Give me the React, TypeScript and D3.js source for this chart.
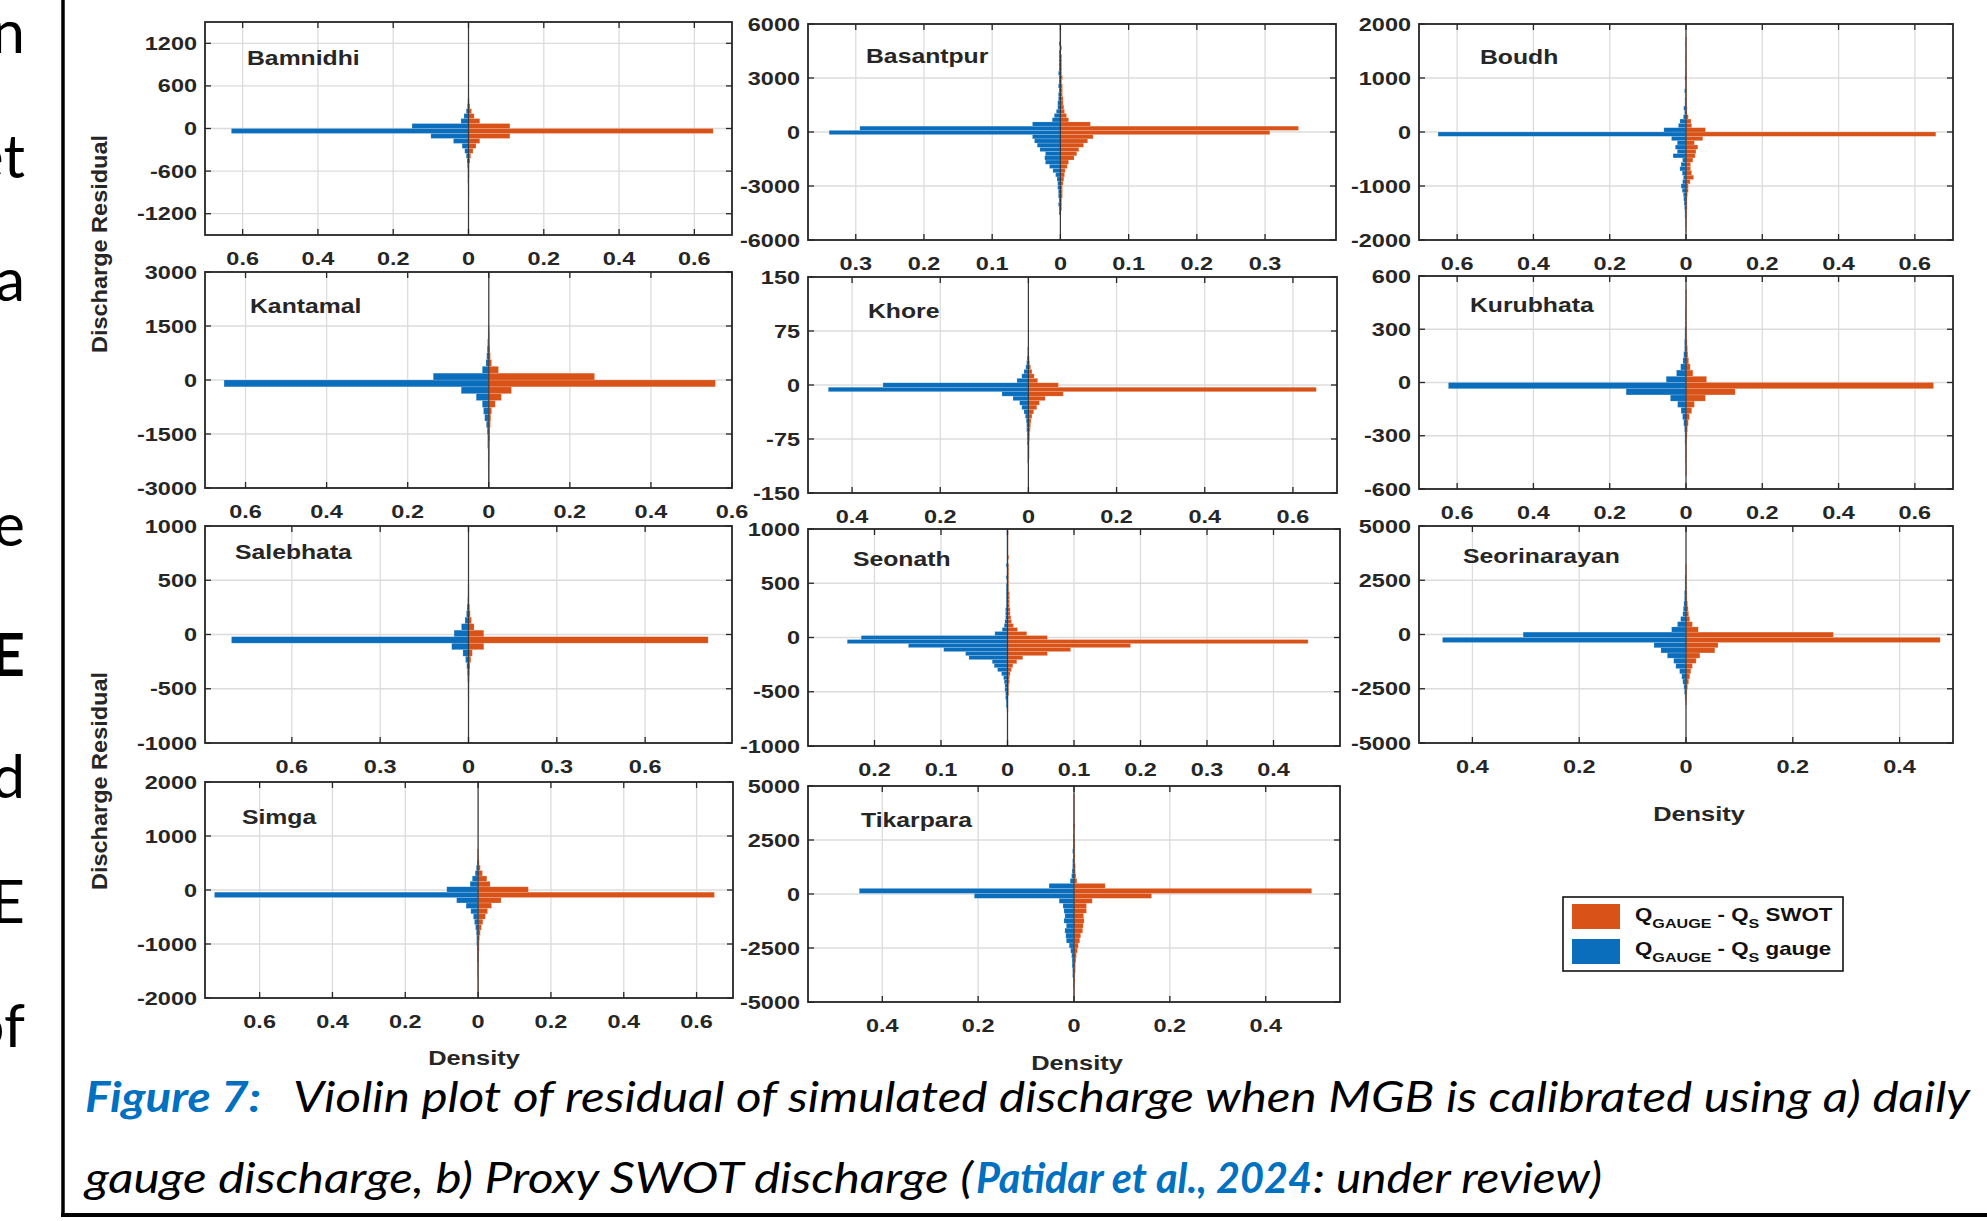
import React from 'react';
import * as d3 from 'd3';

// ---------------- data ----------------
const stations = ['Bamnidhi', 'Basantpur', 'Boudh', 'Kantamal', 'Khore', 'Kurubhata', 'Salebhata', 'Seonath', 'Seorinarayan', 'Simga', 'Tikarpara'];

// histogram bins: start value and width of bins along the residual axis
const binStarts = [-980, -4610, -1840, -2850, -139.5, -525, -620, -685, -3250, -1940, -4800];
const binWidths = [70, 235, 80, 190, 6.2, 35, 60, 37, 240, 100, 230];

// densities per bin (bottom -> top): gauge-calibrated (blue) and SWOT (orange)
const bamnidhiGauge = [0.001, 0.001, 0.001, 0.002, 0.002, 0.002, 0.003, 0.004, 0.006, 0.010, 0.017, 0.040, 0.100, 0.630, 0.150, 0.020, 0.012, 0.006, 0.003, 0.002];
const bamnidhiSwot = [0.001, 0.001, 0.001, 0.001, 0.002, 0.002, 0.002, 0.004, 0.006, 0.012, 0.020, 0.030, 0.110, 0.650, 0.110, 0.030, 0.015, 0.008, 0.004, 0.002];

const basantpurGauge = [0.002, 0.002, 0.003, 0.002, 0.003, 0.003, 0.004, 0.004, 0.005, 0.007, 0.011, 0.016, 0.022, 0.023, 0.022, 0.030, 0.034, 0.038, 0.041, 0.339, 0.294, 0.041, 0.012, 0.009, 0.006, 0.004, 0.004, 0.003, 0.003, 0.002, 0.003, 0.002, 0.002, 0.003, 0.002, 0.002, 0.002, 0.002, 0.002, 0.001, 0.002, 0.001, 0.001, 0.001];
const basantpurSwot = [0.001, 0.002, 0.002, 0.002, 0.003, 0.003, 0.003, 0.004, 0.005, 0.006, 0.007, 0.010, 0.012, 0.020, 0.024, 0.027, 0.034, 0.040, 0.048, 0.307, 0.349, 0.044, 0.012, 0.009, 0.006, 0.005, 0.004, 0.004, 0.003, 0.003, 0.003, 0.002, 0.003, 0.002, 0.002, 0.002, 0.002, 0.002, 0.001, 0.002, 0.001, 0.001, 0.001, 0.001];

const boudhGauge = [0.001, 0.002, 0.002, 0.003, 0.003, 0.004, 0.005, 0.006, 0.007, 0.010, 0.013, 0.009, 0.007, 0.010, 0.016, 0.013, 0.009, 0.034, 0.023, 0.028, 0.023, 0.038, 0.650, 0.058, 0.020, 0.016, 0.007, 0.004, 0.006, 0.003, 0.003, 0.002, 0.004, 0.002, 0.002, 0.003, 0.002, 0.002, 0.001, 0.002, 0.002, 0.001, 0.001, 0.002, 0.001];
const boudhSwot = [0.001, 0.001, 0.002, 0.002, 0.002, 0.003, 0.003, 0.003, 0.004, 0.006, 0.006, 0.011, 0.020, 0.015, 0.012, 0.012, 0.018, 0.024, 0.026, 0.031, 0.022, 0.044, 0.655, 0.051, 0.015, 0.013, 0.006, 0.003, 0.003, 0.002, 0.002, 0.001, 0.002, 0.001, 0.001, 0.002, 0.001, 0.001, 0.001, 0.001, 0.001, 0.001, 0.001, 0.001, 0.001];

const kantamalGauge = [0.001, 0.001, 0.002, 0.002, 0.002, 0.003, 0.003, 0.004, 0.006, 0.010, 0.013, 0.016, 0.031, 0.068, 0.653, 0.137, 0.016, 0.007, 0.005, 0.004, 0.003, 0.002, 0.002];
const kantamalSwot = [0.001, 0.001, 0.001, 0.002, 0.002, 0.002, 0.003, 0.003, 0.004, 0.005, 0.007, 0.016, 0.031, 0.056, 0.559, 0.261, 0.024, 0.007, 0.004, 0.003, 0.002, 0.002, 0.001];

const khoreGauge = [0.001, 0.001, 0.001, 0.001, 0.001, 0.002, 0.002, 0.002, 0.002, 0.003, 0.003, 0.003, 0.004, 0.004, 0.005, 0.007, 0.010, 0.015, 0.020, 0.035, 0.060, 0.454, 0.330, 0.026, 0.015, 0.010, 0.006, 0.004, 0.003, 0.002, 0.002];
const khoreSwot = [0.001, 0.001, 0.001, 0.001, 0.001, 0.001, 0.002, 0.002, 0.002, 0.002, 0.003, 0.003, 0.004, 0.005, 0.006, 0.008, 0.012, 0.019, 0.025, 0.038, 0.079, 0.653, 0.068, 0.021, 0.013, 0.008, 0.005, 0.003, 0.002, 0.001, 0.001];

const kurubhataGauge = [0.001, 0.001, 0.002, 0.002, 0.002, 0.003, 0.003, 0.004, 0.006, 0.009, 0.013, 0.022, 0.041, 0.157, 0.623, 0.052, 0.025, 0.014, 0.008, 0.006, 0.004, 0.004, 0.003, 0.003, 0.002, 0.002, 0.002, 0.001, 0.001, 0.001];
const kurubhataSwot = [0.001, 0.001, 0.001, 0.002, 0.002, 0.002, 0.003, 0.004, 0.006, 0.009, 0.015, 0.022, 0.051, 0.129, 0.649, 0.054, 0.018, 0.011, 0.007, 0.005, 0.004, 0.003, 0.002, 0.002, 0.001, 0.001, 0.001, 0.001, 0.001, 0.001];

const salebhataGauge = [0.001, 0.002, 0.002, 0.003, 0.004, 0.006, 0.010, 0.019, 0.057, 0.805, 0.049, 0.024, 0.012, 0.007, 0.005, 0.003, 0.002, 0.002];
const salebhataSwot = [0.001, 0.001, 0.002, 0.003, 0.004, 0.005, 0.008, 0.013, 0.052, 0.814, 0.052, 0.019, 0.010, 0.006, 0.004, 0.002, 0.002, 0.001];

const seonathGauge = [0.001, 0.002, 0.002, 0.003, 0.003, 0.004, 0.004, 0.005, 0.006, 0.009, 0.015, 0.020, 0.023, 0.058, 0.063, 0.096, 0.149, 0.241, 0.220, 0.019, 0.008, 0.005, 0.004, 0.003, 0.003, 0.003, 0.002, 0.002, 0.002, 0.002, 0.002, 0.002, 0.001, 0.002, 0.001, 0.001, 0.002, 0.001, 0.001, 0.001, 0.001, 0.001, 0.001, 0.001, 0.001];
const seonathSwot = [0.001, 0.001, 0.001, 0.001, 0.002, 0.002, 0.002, 0.003, 0.003, 0.004, 0.006, 0.008, 0.014, 0.023, 0.060, 0.095, 0.185, 0.452, 0.060, 0.029, 0.015, 0.009, 0.006, 0.005, 0.004, 0.004, 0.003, 0.003, 0.003, 0.003, 0.002, 0.002, 0.002, 0.002, 0.002, 0.002, 0.002, 0.001, 0.002, 0.001, 0.001, 0.001, 0.001, 0.001, 0.001];

const seorinarayanGauge = [0.001, 0.002, 0.003, 0.004, 0.006, 0.008, 0.012, 0.019, 0.023, 0.035, 0.047, 0.060, 0.456, 0.305, 0.027, 0.016, 0.010, 0.006, 0.005, 0.004, 0.003, 0.003, 0.002, 0.002, 0.002, 0.001, 0.001];
const seorinarayanSwot = [0.001, 0.001, 0.002, 0.003, 0.005, 0.007, 0.009, 0.012, 0.019, 0.026, 0.054, 0.060, 0.476, 0.276, 0.023, 0.012, 0.007, 0.005, 0.004, 0.003, 0.002, 0.002, 0.001, 0.001, 0.001, 0.001, 0.001];

const simgaGauge = [0.001, 0.001, 0.001, 0.002, 0.002, 0.002, 0.003, 0.003, 0.003, 0.004, 0.004, 0.005, 0.007, 0.010, 0.013, 0.020, 0.033, 0.059, 0.724, 0.086, 0.022, 0.016, 0.008, 0.005, 0.003, 0.002, 0.002];
const simgaSwot = [0.001, 0.001, 0.001, 0.001, 0.001, 0.002, 0.002, 0.002, 0.003, 0.003, 0.004, 0.006, 0.009, 0.013, 0.020, 0.026, 0.037, 0.063, 0.649, 0.138, 0.033, 0.024, 0.012, 0.006, 0.003, 0.002, 0.001];

const tikarparaGauge = [0.001, 0.001, 0.002, 0.002, 0.003, 0.003, 0.004, 0.004, 0.005, 0.007, 0.010, 0.016, 0.017, 0.019, 0.016, 0.021, 0.019, 0.021, 0.023, 0.031, 0.208, 0.448, 0.052, 0.008, 0.005, 0.004, 0.003, 0.003, 0.002, 0.003, 0.002, 0.002, 0.002, 0.001, 0.002, 0.001, 0.001, 0.001, 0.001, 0.001, 0.001];
const tikarparaSwot = [0.001, 0.001, 0.001, 0.002, 0.002, 0.003, 0.003, 0.004, 0.005, 0.007, 0.009, 0.012, 0.014, 0.018, 0.019, 0.021, 0.020, 0.026, 0.026, 0.038, 0.162, 0.496, 0.065, 0.006, 0.004, 0.003, 0.003, 0.002, 0.002, 0.002, 0.002, 0.002, 0.001, 0.001, 0.002, 0.001, 0.001, 0.001, 0.001, 0.001, 0.001];

const gaugeSeries = [bamnidhiGauge, basantpurGauge, boudhGauge, kantamalGauge, khoreGauge, kurubhataGauge, salebhataGauge, seonathGauge, seorinarayanGauge, simgaGauge, tikarparaGauge];
const swotSeries = [bamnidhiSwot, basantpurSwot, boudhSwot, kantamalSwot, khoreSwot, kurubhataSwot, salebhataSwot, seonathSwot, seorinarayanSwot, simgaSwot, tikarparaSwot];

// axis limits and tick labels
const yDomains = [[-1500, 1500], [-6000, 6000], [-2000, 2000], [-3000, 3000], [-150, 150], [-600, 600], [-1000, 1000], [-1000, 1000], [-5000, 5000], [-2000, 2000], [-5000, 5000]];
const yTicks = [
  [-1200, -600, 0, 600, 1200],
  [-6000, -3000, 0, 3000, 6000],
  [-2000, -1000, 0, 1000, 2000],
  [-3000, -1500, 0, 1500, 3000],
  [-150, -75, 0, 75, 150],
  [-600, -300, 0, 300, 600],
  [-1000, -500, 0, 500, 1000],
  [-1000, -500, 0, 500, 1000],
  [-5000, -2500, 0, 2500, 5000],
  [-2000, -1000, 0, 1000, 2000],
  [-5000, -2500, 0, 2500, 5000],
];
const xDomains = [[-0.7, 0.7], [-0.37, 0.404], [-0.7, 0.7], [-0.7, 0.6], [-0.5, 0.7], [-0.7, 0.7], [-0.895, 0.895], [-0.3, 0.5], [-0.5, 0.5], [-0.75, 0.7], [-0.555, 0.555]];
const xTicks = [
  [-0.6, -0.4, -0.2, 0, 0.2, 0.4, 0.6],
  [-0.3, -0.2, -0.1, 0, 0.1, 0.2, 0.3],
  [-0.6, -0.4, -0.2, 0, 0.2, 0.4, 0.6],
  [-0.6, -0.4, -0.2, 0, 0.2, 0.4, 0.6],
  [-0.4, -0.2, 0, 0.2, 0.4, 0.6],
  [-0.6, -0.4, -0.2, 0, 0.2, 0.4, 0.6],
  [-0.6, -0.3, 0, 0.3, 0.6],
  [-0.2, -0.1, 0, 0.1, 0.2, 0.3, 0.4],
  [-0.4, -0.2, 0, 0.2, 0.4],
  [-0.6, -0.4, -0.2, 0, 0.2, 0.4, 0.6],
  [-0.4, -0.2, 0, 0.2, 0.4],
];

const legendLabels = ['SWOT', 'gauge'];
const sideLetters = ['n', 'et', 'a', 'e', 'E', 'd', 'E', 'of'];

// ---------------- layout / style ----------------
const W = 1987;
const H = 1221;
const BLUE = '#0A6EBD';
const ORANGE = '#D95319';
const INK = '#262626';
const GRID = '#dcdcdc';
const SX = 1.27;
const FONT = "'Liberation Sans', Arial, Helvetica, sans-serif";
const CAP_FONT = "Lato, 'Open Sans', sans-serif";

const panelBoxes = [
  [205, 732, 22, 235], [808, 1336, 24, 240], [1419, 1953, 24, 240],
  [205, 732, 272, 488], [808, 1337, 277, 493], [1419, 1953, 276, 489],
  [205, 732, 526, 743], [808, 1340, 529, 746], [1419, 1953, 526, 743],
  [205, 733, 782, 998], [808, 1340, 786, 1002],
];
const titlePos = [[247, 65], [866, 63], [1480, 64], [250, 313], [868, 318], [1470, 312], [235, 559], [853, 566], [1463, 563], [242, 824], [861, 827]];
const sideBaselines = [53, 178, 301, 546, 676, 798, 923, 1047];

function SText({ x, y, anchor = 'start', size = 18.5, weight = 'bold', sx = SX, fill = INK, children }: any) {
  return (
    <text transform={`translate(${x},${y}) scale(${sx},1)`} textAnchor={anchor} fontFamily={FONT} fontSize={size} fontWeight={weight} fill={fill}>
      {children}
    </text>
  );
}

const fmtX = (v: number) => String(+Math.abs(v).toFixed(2));

function Panel({ i }: { i: number }) {
  const [x0, x1, y0, y1] = panelBoxes[i];
  const xs = d3.scaleLinear().domain(xDomains[i]).range([x0, x1]);
  const ys = d3.scaleLinear().domain(yDomains[i]).range([y1, y0]);
  const start = binStarts[i];
  const w = binWidths[i];
  const tl = 6;
  const bars = (vals: number[], side: number, color: string) =>
    vals.map((d, k) => {
      const lo = start + k * w;
      const hi = lo + w;
      const xa = xs(side < 0 ? -d : 0);
      const xb = xs(side < 0 ? 0 : d);
      return (
        <rect key={`${color}${k}`} x={xa} y={ys(hi)} width={Math.max(0.6, xb - xa)} height={ys(lo) - ys(hi)}
          fill={color} stroke="#ffffff" strokeOpacity={0.28} strokeWidth={0.6} />
      );
    });
  return (
    <g>
      <rect x={x0} y={y0} width={x1 - x0} height={y1 - y0} fill="#fff" />
      {xTicks[i].map((t) => (
        <line key={`gx${t}`} x1={xs(t)} x2={xs(t)} y1={y0} y2={y1} stroke={GRID} strokeWidth={1.3} />
      ))}
      {yTicks[i].map((t) => (
        <line key={`gy${t}`} x1={x0} x2={x1} y1={ys(t)} y2={ys(t)} stroke={GRID} strokeWidth={1.3} />
      ))}
      {bars(gaugeSeries[i], -1, BLUE)}
      {bars(swotSeries[i], 1, ORANGE)}
      <line x1={xs(0)} x2={xs(0)} y1={y0} y2={y1} stroke="#3a3a3a" strokeWidth={1.2} />
      {xTicks[i].map((t) => (
        <g key={`tx${t}`}>
          <line x1={xs(t)} x2={xs(t)} y1={y1} y2={y1 - tl} stroke={INK} strokeWidth={1.3} />
          <line x1={xs(t)} x2={xs(t)} y1={y0} y2={y0 + tl} stroke={INK} strokeWidth={1.3} />
          <SText x={xs(t)} y={y1 + 30} anchor="middle">{fmtX(t)}</SText>
        </g>
      ))}
      {yTicks[i].map((t) => (
        <g key={`ty${t}`}>
          <line x1={x0} x2={x0 + tl} y1={ys(t)} y2={ys(t)} stroke={INK} strokeWidth={1.3} />
          <line x1={x1} x2={x1 - tl} y1={ys(t)} y2={ys(t)} stroke={INK} strokeWidth={1.3} />
          <SText x={x0 - 8} y={ys(t) + 6.5} anchor="end">{String(t)}</SText>
        </g>
      ))}
      <rect x={x0} y={y0} width={x1 - x0} height={y1 - y0} fill="none" stroke={INK} strokeWidth={1.8} />
      <SText x={titlePos[i][0]} y={titlePos[i][1]} size={19.5}>{stations[i]}</SText>
    </g>
  );
}

export default function App() {
  return (
    <div style={{ position: 'absolute', left: 0, top: 0, width: W, height: H, background: '#fff' }}>
      <svg width={W} height={H} viewBox={`0 0 ${W} ${H}`} style={{ display: 'block' }}>
        <rect x={0} y={0} width={W} height={H} fill="#fff" />
        {/* cut-off text from neighbouring column */}
        {sideLetters.map((s, k) => (
          <text key={k} x={25} y={sideBaselines[k]} textAnchor="end" fontFamily={CAP_FONT} fontSize={60}
            fontWeight={k === 4 ? 'bold' : 'normal'} fill="#000">{s}</text>
        ))}
        <line x1={63} x2={63} y1={0} y2={1217} stroke="#000" strokeWidth={3.5} />
        <line x1={61} x2={W} y1={1215} y2={1215} stroke="#000" strokeWidth={4} />

        {stations.map((_, i) => <Panel key={i} i={i} />)}

        {/* axis titles */}
        <text transform="translate(107,244) rotate(-90)" textAnchor="middle" fontFamily={FONT} fontSize={22}
          fontWeight="bold" fill={INK} textLength={218} lengthAdjust="spacingAndGlyphs">Discharge Residual</text>
        <text transform="translate(107,781) rotate(-90)" textAnchor="middle" fontFamily={FONT} fontSize={22}
          fontWeight="bold" fill={INK} textLength={218} lengthAdjust="spacingAndGlyphs">Discharge Residual</text>
        <SText x={474} y={1065} anchor="middle" size={20}>Density</SText>
        <SText x={1077} y={1070} anchor="middle" size={20}>Density</SText>
        <SText x={1699} y={821} anchor="middle" size={20}>Density</SText>

        {/* legend */}
        <rect x={1563} y={897} width={280} height={74} fill="#fff" stroke="#111" strokeWidth={1.6} />
        <rect x={1572} y={904} width={48} height={25} fill={ORANGE} />
        <rect x={1572} y={939} width={48} height={25} fill={BLUE} />
        {legendLabels.map((lab, k) => (
          <text key={lab} transform={`translate(1635,${921 + k * 34}) scale(1.24,1)`} fontFamily={FONT} fontSize={18}
            fontWeight="bold" fill="#111">
            Q<tspan fontSize={13} dy={7}>GAUGE</tspan>
            <tspan dy={-7}>{' - Q'}</tspan>
            <tspan fontSize={13} dy={7}>S</tspan>
            <tspan dy={-7}>{' ' + lab}</tspan>
          </text>
        ))}

        {/* caption */}
        <text x={85} y={1112} fontFamily={CAP_FONT} fontSize={42} fontStyle="italic" fontWeight="bold" fill="#0070C0"
          textLength={176} lengthAdjust="spacingAndGlyphs">Figure 7:</text>
        <text x={293} y={1112} fontFamily={CAP_FONT} fontSize={42} fontStyle="italic" fill="#000"
          textLength={1677} lengthAdjust="spacingAndGlyphs">Violin plot of residual of simulated discharge when MGB is calibrated using a) daily</text>
        <text x={85} y={1193} fontFamily={CAP_FONT} fontSize={42} fontStyle="italic" fill="#000"
          textLength={888} lengthAdjust="spacingAndGlyphs">gauge discharge, b) Proxy SWOT discharge (</text>
        <text x={976} y={1193} fontFamily={CAP_FONT} fontSize={42} fontStyle="italic" fontWeight="bold" fill="#0070C0"
          textLength={336} lengthAdjust="spacingAndGlyphs">Patidar et al., 2024</text>
        <text x={1313} y={1193} fontFamily={CAP_FONT} fontSize={42} fontStyle="italic" fill="#000"
          textLength={289} lengthAdjust="spacingAndGlyphs">: under review)</text>
      </svg>
    </div>
  );
}
